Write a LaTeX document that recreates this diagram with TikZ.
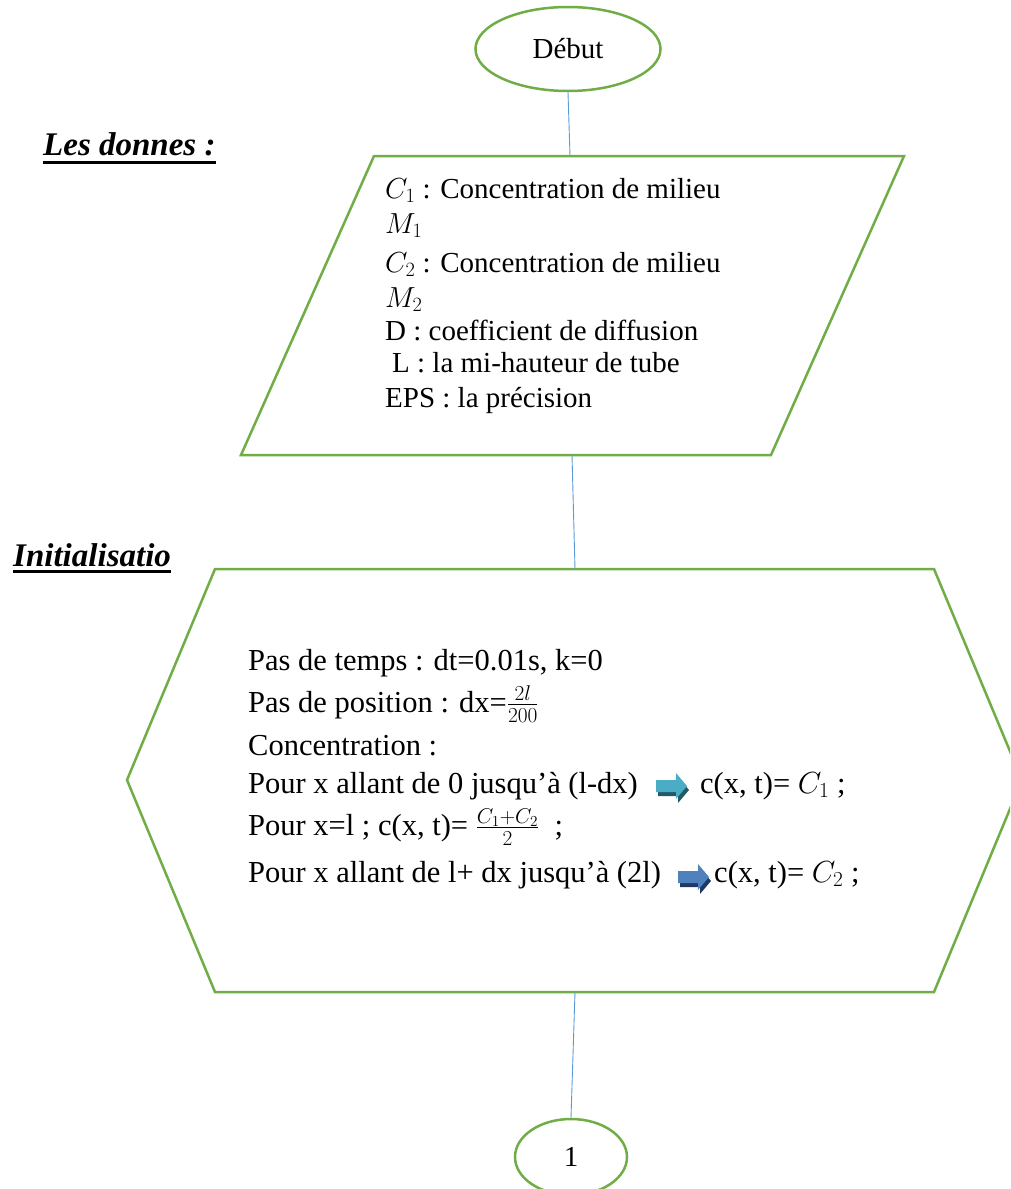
\RequirePackage{fix-cm}
\documentclass[tikz,border=0pt]{standalone}
\usepackage{fontspec}
\setmainfont{Liberation Serif}
\usetikzlibrary{shapes.geometric}
\definecolor{flgreen}{RGB}{112,173,71}
\definecolor{flblue}{RGB}{91,155,213}
\definecolor{arcyan}{RGB}{75,172,198}
\definecolor{arcyand}{RGB}{33,89,104}
\definecolor{arblue}{RGB}{79,129,189}
\definecolor{arblued}{RGB}{31,56,100}
\tikzset{pics/barrow/.style 2 args={code={
  \fill[#2] (2,-2)--(22,-2)--(22,-9)--(33,4)--(22,17)--(22,10)--(2,10)--cycle;
  \fill[#1] (0,-6)--(20,-6)--(20,-13)--(31,0)--(20,13)--(20,6)--(0,6)--cycle;
}}}
\begin{document}
\begin{tikzpicture}[x=1pt,y=-1pt,
  shapeline/.style={draw=flgreen,line width=2.5pt,line join=miter},
  conn/.style={draw=flblue,line width=0.9pt},
  term/.style={ellipse,shapeline,inner sep=0pt,font=\fontsize{29}{34}\selectfont},
  ptxt/.style={anchor=base west,inner sep=0pt,font=\fontsize{29}{34}\selectfont},
  htxt/.style={anchor=base west,inner sep=0pt,font=\fontsize{30.5}{36}\selectfont},
  headlbl/.style={anchor=base west,inner sep=0pt,font=\fontsize{33}{38}\selectfont\bfseries\itshape},
  ulinestyle/.style={line width=3pt}
]
\clip (0,0) rectangle (1010,1189);

% terminals
\node[term,minimum width=185pt,minimum height=84pt] (debut) at (568,49) {Début};
\node[term,minimum width=112pt,minimum height=76pt] (one) at (571,1157) {1};

% parallelogram (data)
\coordinate (pTL) at (374,156);
\coordinate (pTR) at (904,156);
\coordinate (pBR) at (771,455);
\coordinate (pBL) at (241,455);
\draw[shapeline] (pTL) -- (pTR) -- (pBR) -- (pBL) -- cycle;
\coordinate (pTop) at (570,156);
\coordinate (pBot) at (572,455);

% hexagon (initialisation)
\coordinate (hTL) at (215,569);
\coordinate (hTR) at (934,569);
\coordinate (hR) at (1022,780);
\coordinate (hBR) at (934,992);
\coordinate (hBL) at (215,992);
\coordinate (hL) at (127,780);
\draw[shapeline] (hTL) -- (hTR) -- (hR) -- (hBR) -- (hBL) -- (hL) -- cycle;
\coordinate (hTop) at (575,569);
\coordinate (hBot) at (575,992);

% connectors
\draw[conn] (debut.south) -- (pTop);
\draw[conn] (pBot) -- (hTop);
\draw[conn] (hBot) -- (one.north);

% headings
\node[headlbl] (les) at (43,155) {Les donnes :};
\draw[ulinestyle] ([yshift=-7pt]les.base west) -- ([yshift=-7pt]les.base east);
\node[headlbl] (init) at (13,566) {Initialisatio};
\draw[ulinestyle] ([yshift=-5.5pt]init.base west) -- ([yshift=-5.5pt]init.base east);

% data text
\node[ptxt] (d1) at (385,198) {$C_1$ : Concentration de milieu};
\node[ptxt] (d2) at (385,233) {$M_1$};
\node[ptxt] (d3) at (385,272) {$C_2$ : Concentration de milieu};
\node[ptxt] (d4) at (385,307) {$M_2$};
\node[ptxt] (d5) at (385,340) {D : coefficient de diffusion};
\node[ptxt] (d6) at (392,372) {L : la mi-hauteur de tube};
\node[ptxt] (d7) at (385,407) {EPS : la précision};

% init text
\node[htxt] (i1) at (248,670) {Pas de temps : dt=0.01s, k=0};
\node[htxt] (i2) at (248,712) {Pas de position : dx=$\frac{2l}{200}$};
\node[htxt] (i3) at (248,755) {Concentration :};
\node[htxt] (i4) at (248,793) {Pour x allant de 0 jusqu’à (l-dx)};
\pic at (656,786) {barrow={arcyan}{arcyand}};
\node[htxt] (i4b) at (700,793) {c(x, t)= $C_1$ ;};
\node[htxt] (i5) at (248,835) {Pour x=l ; c(x, t)= $\frac{C_1+C_2}{2}$\ \ ;};
\node[htxt] (i6) at (248,882) {Pour x allant de l+ dx jusqu’à (2l)};
\pic at (678,877) {barrow={arblue}{arblued}};
\node[htxt] (i6b) at (714,882) {c(x, t)= $C_2$ ;};
\end{tikzpicture}
\end{document}
